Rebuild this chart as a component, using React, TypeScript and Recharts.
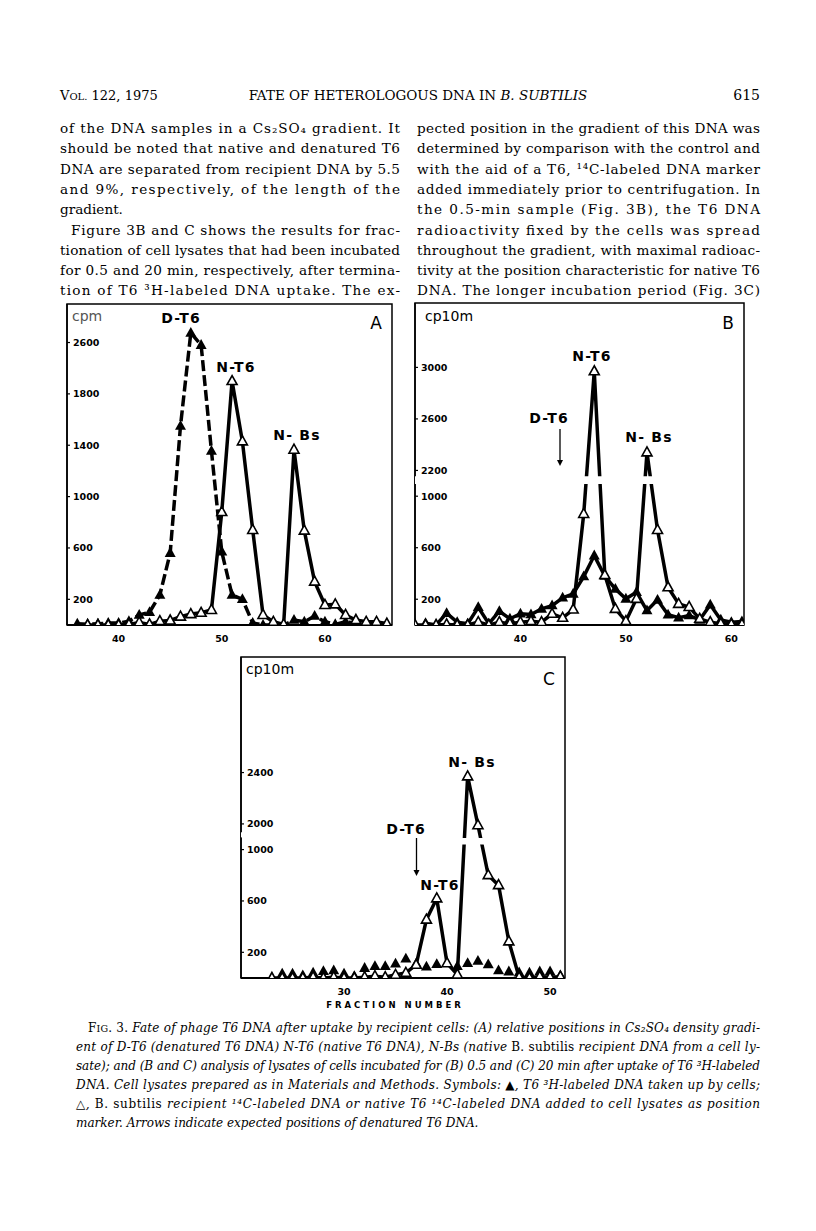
import React from 'react';
import { LineChart, Line, XAxis, YAxis, ReferenceArea } from 'recharts';

// Panel A - relative positions of D-T6, N-T6, N-Bs
const aFractions = [36, 37, 38, 39, 40, 41, 42, 43, 44, 45, 46, 47, 48, 49, 50, 51, 52, 53, 54, 55, 56, 57, 58, 59, 60, 61, 62, 63, 64, 65, 66];
const aLabeled = [10, 5, 10, 15, 15, 30, 78, 100, 234, 560, 1550, 2675, 2580, 1356, 570, 234, 200, 15, 0, 0, 0, 39, 25, 70, 25, 5, 25, 15, 10, 15, 10];
const aNative = [null, 0, 0, 0, 0, 5, 20, 5, 30, 35, 65, 85, 95, 117, 880, 1900, 1430, 740, 78, 25, 5, 1365, 735, 338, 156, 161, 78, 39, 25, 25, 10];
const aYTicks = [200, 600, 1000, 1400, 1800, 2600];
const aXTicks = [40, 50, 60];

// Panel B - 0.5 min
const bFractions = [30, 31, 32, 33, 34, 35, 36, 37, 38, 39, 40, 41, 42, 43, 44, 45, 46, 47, 48, 49, 50, 51, 52, 53, 54, 55, 56, 57, 58, 59, 60, 61];
const bLabeled = [null, 14, 0, 92, 22, 10, 138, 10, 107, 48, 87, 81, 125, 151, 211, 242, 376, 539, 380, 280, 203, 254, 112, 195, 80, 56, 74, 40, 157, 40, 22, 27];
const bNative = [0, 0, 0, 4, 0, 0, 22, 0, 22, 10, 22, 30, 22, 87, 56, 120, 862, 2970, 388, 125, 30, 203, 2340, 738, 293, 164, 140, 48, 22, 10, 5, 5];
const bYTicks = [200, 600, 1000, 2200, 2600, 3000];
const bXTicks = [40, 50, 60];

// Panel C - 20 min
const cFractions = [23, 24, 25, 26, 27, 28, 29, 30, 31, 32, 33, 34, 35, 36, 37, 38, 39, 40, 41, 42, 43, 44, 45, 46, 47, 48, 49, 50, 51];
const cLabeled = [0, 33, 33, 20, 40, 53, 59, 33, 14, 77, 92, 92, 111, 150, 111, 88, 108, 115, 92, 115, 133, 105, 59, 50, 42, 40, 50, 50, 20];
const cNative = [0, 0, 0, 0, 6, 0, 6, 0, 0, 6, 14, 6, 25, 40, 103, 455, 620, 115, 27, 2370, 1990, 801, 723, 285, 5, 0, 10, 5, 10];
const cYTicks = [200, 600, 1000, 2000, 2400];
const cXTicks = [30, 40, 50];

type Brk = { low: number; shift: number };

// broken y axis: values above the break are drawn shifted down
const toAxis = (v: number | null, b: Brk) => (v == null ? null : v > b.low ? v - b.shift : v);

const FilledTri = (props: any) => {
  const { cx, cy, value, index } = props;
  if (value == null || cx == null || cy == null) return <g key={`f${index}`} />;
  return <polygon key={`f${index}`} points={`${cx},${cy - 6} ${cx - 5.5},${cy + 3.8} ${cx + 5.5},${cy + 3.8}`} fill="#000" />;
};

const OpenTri = (props: any) => {
  const { cx, cy, value, index } = props;
  if (value == null || cx == null || cy == null) return <g key={`o${index}`} />;
  return (
    <polygon
      key={`o${index}`}
      points={`${cx},${cy - 5.5} ${cx - 5},${cy + 3.5} ${cx + 5},${cy + 3.5}`}
      fill="#fff"
      stroke="#000"
      strokeWidth={1.6}
    />
  );
};

type Gap = { x1: number; x2: number; y1: number; y2: number };

type PanelProps = {
  left: number;
  top: number;
  width: number;
  height: number;
  fractions: number[];
  labeled: (number | null)[];
  native: (number | null)[];
  brk: Brk;
  xDomain: [number, number];
  yMax: number;
  xTicks: number[];
  yTicks: number[];
  labeledStyle: 'dashed' | 'solid' | 'none';
  gaps?: Gap[];
};

const tickFont = { fontSize: 9.5, fontWeight: 700, fill: '#000', fontFamily: 'DejaVu Sans' };

const Panel = (p: PanelProps) => {
  const rows = p.fractions.map((f, i) => ({
    f,
    labeled: toAxis(p.labeled[i], p.brk),
    native: toAxis(p.native[i], p.brk),
  }));
  const yPos = p.yTicks.map((t) => toAxis(t, p.brk) as number);
  return (
    <div style={{ position: 'absolute', left: p.left, top: p.top }}>
      <LineChart width={p.width} height={p.height} data={rows} margin={{ top: 10, right: 10, left: 10, bottom: 0 }}>
        <XAxis
          type="number"
          dataKey="f"
          domain={p.xDomain}
          ticks={p.xTicks}
          interval={0}
          allowDataOverflow
          tickLine={false}
          axisLine={{ stroke: '#000', strokeWidth: 2 }}
          tick={tickFont}
          tickMargin={4}
          height={25}
        />
        <YAxis
          type="number"
          domain={[0, p.yMax]}
          ticks={yPos}
          interval={0}
          allowDataOverflow
          mirror
          tickFormatter={(v: number) => String(p.yTicks[yPos.indexOf(v)] ?? '')}
          axisLine={{ stroke: '#000', strokeWidth: 1.5 }}
          tickLine={{ stroke: '#000', strokeWidth: 1.2 }}
          tickSize={3}
          tickMargin={3}
          tick={tickFont}
        />
        <ReferenceArea x1={p.xDomain[0]} x2={p.xDomain[1]} y1={0} y2={p.yMax} fill="none" stroke="#000" strokeWidth={1.5} />
        <Line
          dataKey="labeled"
          stroke={p.labeledStyle === 'none' ? 'none' : '#000'}
          strokeWidth={3.5}
          strokeDasharray={p.labeledStyle === 'dashed' ? '11 4' : undefined}
          dot={FilledTri}
          activeDot={false}
          isAnimationActive={false}
        />
        <Line
          dataKey="native"
          stroke="#000"
          strokeWidth={3.5}
          dot={OpenTri}
          activeDot={false}
          isAnimationActive={false}
        />
        {(p.gaps ?? []).map((g, i) => (
          <ReferenceArea key={i} x1={g.x1} x2={g.x2} y1={g.y1} y2={g.y2} fill="#fff" stroke="none" fillOpacity={1} {...({ zIndex: 1500 } as any)} />
        ))}
      </LineChart>
    </div>
  );
};

const serif = 'DejaVu Serif';
const sans = 'DejaVu Sans';

const leftCol = [
  'of the DNA samples in a Cs\u2082SO\u2084 gradient. It',
  'should be noted that native and denatured T6',
  'DNA are separated from recipient DNA by 5.5',
  'and 9%, respectively, of the length of the',
  'gradient.',
  'Figure 3B and C shows the results for frac-',
  'tionation of cell lysates that had been incubated',
  'for 0.5 and 20 min, respectively, after termina-',
  'tion of T6 \u00b3H-labeled DNA uptake. The ex-',
];
const rightCol = [
  'pected position in the gradient of this DNA was',
  'determined by comparison with the control and',
  'with the aid of a T6, \u00b9\u2074C-labeled DNA marker',
  'added immediately prior to centrifugation. In',
  'the 0.5-min sample (Fig. 3B), the T6 DNA',
  'radioactivity fixed by the cells was spread',
  'throughout the gradient, with maximal radioac-',
  'tivity at the position characteristic for native T6',
  'DNA. The longer incubation period (Fig. 3C)',
];

const Arrow = ({ x, y1, y2 }: { x: number; y1: number; y2: number }) => (
  <g>
    <line x1={x} y1={y1} x2={x} y2={y2 - 5} stroke="#000" strokeWidth={1.3} />
    <polygon points={`${x - 3},${y2 - 6} ${x + 3},${y2 - 6} ${x},${y2}`} fill="#000" />
  </g>
);

const lbl = { fontFamily: sans, fontWeight: 700, fontSize: 14, letterSpacing: 1.2 } as const;
const capFont = 12;

export default function App() {
  return (
    <div style={{ position: 'absolute', left: 0, top: 0, width: 816, height: 1231, background: '#fff' }}>
      <Panel
        left={57}
        top={294}
        width={345}
        height={356}
        fractions={aFractions}
        labeled={aLabeled}
        native={aNative}
        brk={{ low: 2000, shift: 400 }}
        xDomain={[35, 66.5]}
        yMax={2500}
        xTicks={aXTicks}
        yTicks={aYTicks}
        labeledStyle="dashed"
      />
      <Panel
        left={405}
        top={293}
        width={349}
        height={357}
        fractions={bFractions}
        labeled={bLabeled}
        native={bNative}
        brk={{ low: 1100, shift: 1000 }}
        xDomain={[30, 61.2]}
        yMax={2500}
        xTicks={bXTicks}
        yTicks={bYTicks}
        labeledStyle="solid"
        gaps={[{ x1: 30, x2: 60, y1: 1095, y2: 1155 }]}
      />
      <Panel
        left={231}
        top={647}
        width={344}
        height={356}
        fractions={cFractions}
        labeled={cLabeled}
        native={cNative}
        brk={{ low: 1100, shift: 800 }}
        xDomain={[20, 51.45]}
        yMax={2500}
        xTicks={cXTicks}
        yTicks={cYTicks}
        labeledStyle="none"
        gaps={[
          { x1: 41, x2: 44.5, y1: 1040, y2: 1090 },
          { x1: 20, x2: 20.3, y1: 1095, y2: 1135 },
        ]}
      />
      <svg width={816} height={1231} style={{ position: 'absolute', left: 0, top: 0, pointerEvents: 'none' }}>
        {/* running head */}
        <text x={60} y={100} fontFamily={serif} fontSize={13}>
          V<tspan fontSize={10}>OL.</tspan> 122, 1975
        </text>
        <text x={418} y={100} fontFamily={serif} fontSize={13.5} textAnchor="middle">
          FATE OF HETEROLOGOUS DNA IN <tspan fontStyle="italic">B. SUBTILIS</tspan>
        </text>
        <text x={760} y={100} fontFamily={serif} fontSize={14} textAnchor="end">
          615
        </text>

        {leftCol.map((t, i) => {
          const indent = i === 5 ? 11 : 0;
          const full = i !== 4;
          return (
            <text
              key={`l${i}`}
              x={60 + indent}
              y={133 + i * 20.3}
              fontFamily={serif}
              fontSize={13.6}
              textLength={full ? 340 - indent : undefined}
              lengthAdjust="spacing"
            >
              {t}
            </text>
          );
        })}
        {rightCol.map((t, i) => (
          <text key={`r${i}`} x={417} y={133 + i * 20.3} fontFamily={serif} fontSize={13.6} textLength={343} lengthAdjust="spacing">
            {t}
          </text>
        ))}

        {/* panel A labels */}
        <text x={72} y={321} fontFamily={sans} fontSize={14} fill="#555">cpm</text>
        <text x={181} y={323} textAnchor="middle" {...lbl}>D-T6</text>
        <text x={236} y={372} textAnchor="middle" {...lbl}>N-T6</text>
        <text x={297} y={440} textAnchor="middle" {...lbl}>N- Bs</text>
        <text x={376} y={329} textAnchor="middle" fontFamily={sans} fontSize={17}>A</text>

        {/* panel B labels */}
        <text x={425} y={321} fontFamily={sans} fontSize={14}>cp10m</text>
        <text x={728} y={329} textAnchor="middle" fontFamily={sans} fontSize={17}>B</text>
        <text x={592} y={361} textAnchor="middle" {...lbl}>N-T6</text>
        <text x={549} y={423} textAnchor="middle" {...lbl}>D-T6</text>
        <Arrow x={560} y1={429} y2={466} />
        <text x={649} y={442} textAnchor="middle" {...lbl}>N- Bs</text>

        {/* panel C labels */}
        <text x={246} y={674} fontFamily={sans} fontSize={14}>cp10m</text>
        <text x={549} y={685} textAnchor="middle" fontFamily={sans} fontSize={17}>C</text>
        <text x={472} y={767} textAnchor="middle" {...lbl}>N- Bs</text>
        <text x={406} y={834} textAnchor="middle" {...lbl}>D-T6</text>
        <Arrow x={416.5} y1={838} y2={876} />
        <text x={440} y={890} textAnchor="middle" {...lbl}>N-T6</text>
        <text x={395} y={1008} textAnchor="middle" fontFamily={sans} fontWeight={700} fontSize={8.5} letterSpacing={3}>
          FRACTION NUMBER
        </text>

        {/* legend caption */}
        <text x={88} y={1032} fontFamily={serif} fontSize={capFont} textLength={672} lengthAdjust="spacing">
          F<tspan fontSize={9.5}>IG</tspan>. 3. <tspan fontStyle="italic">Fate of phage T6 DNA after uptake by recipient cells: (A) relative positions in Cs{'\u2082'}SO{'\u2084'} density gradi-</tspan>
        </text>
        <text x={76} y={1051} fontFamily={serif} fontSize={capFont} fontStyle="italic" textLength={684} lengthAdjust="spacing">
          ent of D-T6 (denatured T6 DNA) N-T6 (native T6 DNA), N-Bs (native <tspan fontStyle="normal">B. subtilis</tspan> recipient DNA from a cell ly-
        </text>
        <text x={76} y={1070} fontFamily={serif} fontSize={capFont} fontStyle="italic" textLength={684} lengthAdjust="spacing">
          sate); and (B and C) analysis of lysates of cells incubated for (B) 0.5 and (C) 20 min after uptake of T6 {'\u00b3'}H-labeled
        </text>
        <text x={76} y={1089} fontFamily={serif} fontSize={capFont} fontStyle="italic" textLength={684} lengthAdjust="spacing">
          DNA. Cell lysates prepared as in Materials and Methods. Symbols: {'\u25b2'}, T6 {'\u00b3'}H-labeled DNA taken up by cells;
        </text>
        <text x={76} y={1108} fontFamily={serif} fontSize={capFont} fontStyle="italic" textLength={684} lengthAdjust="spacing">
          {'\u25b3'}, <tspan fontStyle="normal">B. subtilis</tspan> recipient {'\u00b9\u2074'}C-labeled DNA or native T6 {'\u00b9\u2074'}C-labeled DNA added to cell lysates as position
        </text>
        <text x={76} y={1127} fontFamily={serif} fontSize={capFont} fontStyle="italic">
          marker. Arrows indicate expected positions of denatured T6 DNA.
        </text>
      </svg>
    </div>
  );
}
